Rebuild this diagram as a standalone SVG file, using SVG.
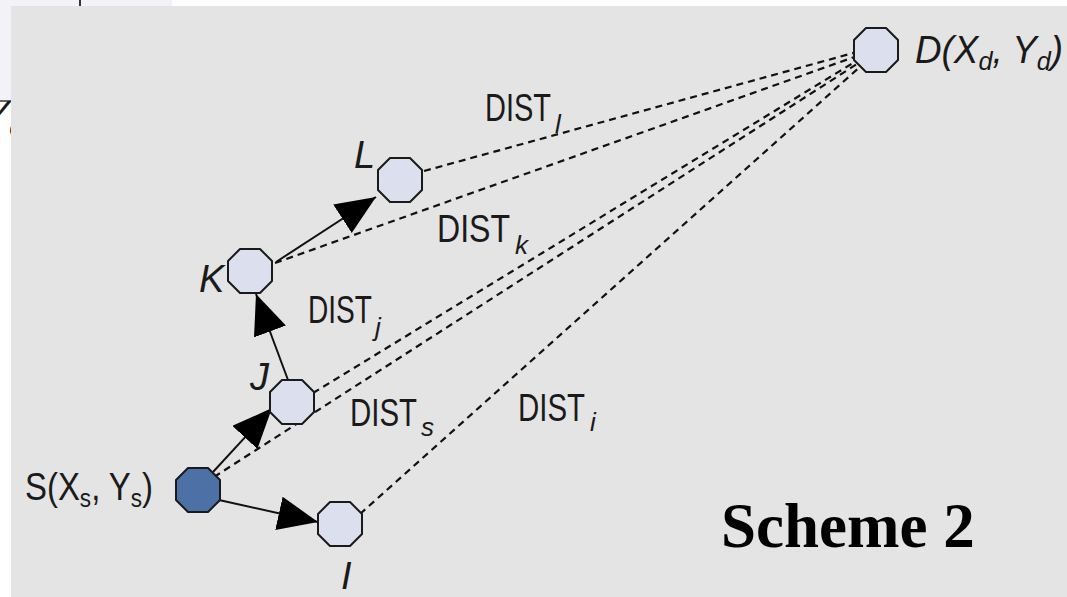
<svg xmlns="http://www.w3.org/2000/svg" width="1067" height="597" viewBox="0 0 1067 597">
  <style>
    .node { fill: #dcdfee; stroke: #1a1a1a; stroke-width: 2; stroke-linejoin: round; }
    .src { fill: #4d71a6; }
    .solid { stroke: #111; stroke-width: 2; fill: none; }
    .dash { stroke: #111; stroke-width: 2.2; fill: none; stroke-dasharray: 7 5; }
    .lbl { font-family: "Liberation Sans", Arial, sans-serif; font-size: 38px; fill: #1a1a1a; }
    .sub { font-family: "Liberation Sans", Arial, sans-serif; font-size: 26px; font-style: italic; fill: #1a1a1a; }
    .it { font-style: italic; }
    .title { font-family: "Liberation Serif", "Times New Roman", serif; font-weight: bold; font-size: 63px; fill: #000; }
  </style>
  <defs>
    <marker id="arrow" markerUnits="userSpaceOnUse" markerWidth="44" markerHeight="36" refX="40" refY="17" orient="auto">
      <path d="M0,0 L40,17 L0,34 Z" fill="#000"/>
    </marker>
    <polygon id="oct" points="-10,-22 10,-22 22,-10 22,10 10,22 -10,22 -22,10 -22,-10"/>
  </defs>

  <!-- page backdrop and the corner of the panel behind -->
  <rect x="0" y="0" width="1067" height="597" fill="#ffffff"/>
  <rect x="0" y="0" width="172" height="100" fill="#f2f2f7"/>
  <line x1="80" y1="0" x2="80" y2="8" stroke="#333" stroke-width="2"/>
  <line x1="0" y1="101" x2="12" y2="101" stroke="#666" stroke-width="2"/>
  <text class="lbl it" x="-16" y="128" fill="#333">Y<tspan font-size="26" dy="8">c</tspan></text>

  <!-- main panel -->
  <rect x="11" y="6" width="1056" height="591" fill="#e4e4e4"/>

  <!-- connectors -->
  <g id="connectors">
    <line class="dash" x1="424" y1="171" x2="857" y2="52"/>
    <line class="dash" x1="275" y1="263" x2="857" y2="56"/>
    <line class="dash" x1="313" y1="393" x2="858" y2="60"/>
    <line class="dash" x1="214" y1="477" x2="860" y2="62"/>
    <line class="dash" x1="360" y1="514" x2="862" y2="65"/>

    <line class="solid" x1="219" y1="500" x2="318" y2="522" marker-end="url(#arrow)"/>
    <line class="solid" x1="213" y1="472" x2="272" y2="408" marker-end="url(#arrow)"/>
    <line class="solid" x1="288" y1="380" x2="256" y2="294" marker-end="url(#arrow)"/>
    <line class="solid" x1="276" y1="262" x2="376" y2="197" marker-end="url(#arrow)"/>
  </g>

  <!-- nodes -->
  <g id="node-D">
    <use href="#oct" class="node" x="876" y="50"/>
    <text class="lbl it" x="915" y="63" textLength="148" lengthAdjust="spacingAndGlyphs">D(X<tspan font-size="26" dy="7">d</tspan><tspan dy="-7">, Y</tspan><tspan font-size="26" dy="7">d</tspan><tspan dy="-7">)</tspan></text>
  </g>
  <g id="node-L">
    <use href="#oct" class="node" x="400" y="180"/>
    <text class="lbl it" x="354" y="168">L</text>
  </g>
  <g id="node-K">
    <use href="#oct" class="node" x="250" y="271"/>
    <text class="lbl it" x="199" y="292">K</text>
  </g>
  <g id="node-J">
    <use href="#oct" class="node" x="292" y="402"/>
    <text class="lbl it" x="250" y="390">J</text>
  </g>
  <g id="node-S">
    <use href="#oct" class="node src" x="198" y="490"/>
    <text class="lbl" x="25" y="500" textLength="128" lengthAdjust="spacingAndGlyphs">S(X<tspan font-size="26" dy="7">s</tspan><tspan dy="-7">, Y</tspan><tspan font-size="26" dy="7">s</tspan><tspan dy="-7">)</tspan></text>
  </g>
  <g id="node-I">
    <use href="#oct" class="node" x="340" y="524"/>
    <text class="lbl it" x="341" y="589">I</text>
  </g>

  <!-- distance labels -->
  <g id="labels">
    <text class="lbl" x="485" y="121" textLength="66" lengthAdjust="spacingAndGlyphs">DIST</text>
    <text class="sub" x="555" y="133">l</text>
    <text class="lbl" x="437" y="242" textLength="73" lengthAdjust="spacingAndGlyphs">DIST</text>
    <text class="sub" x="515" y="254">k</text>
    <text class="lbl" x="308" y="323" textLength="64" lengthAdjust="spacingAndGlyphs">DIST</text>
    <text class="sub" x="375" y="336">j</text>
    <text class="lbl" x="350" y="426" textLength="67" lengthAdjust="spacingAndGlyphs">DIST</text>
    <text class="sub" x="421" y="436">s</text>
    <text class="lbl" x="518" y="421" textLength="67" lengthAdjust="spacingAndGlyphs">DIST</text>
    <text class="sub" x="590" y="431">i</text>
  </g>

  <text class="title" x="721" y="547">Scheme 2</text>
</svg>
